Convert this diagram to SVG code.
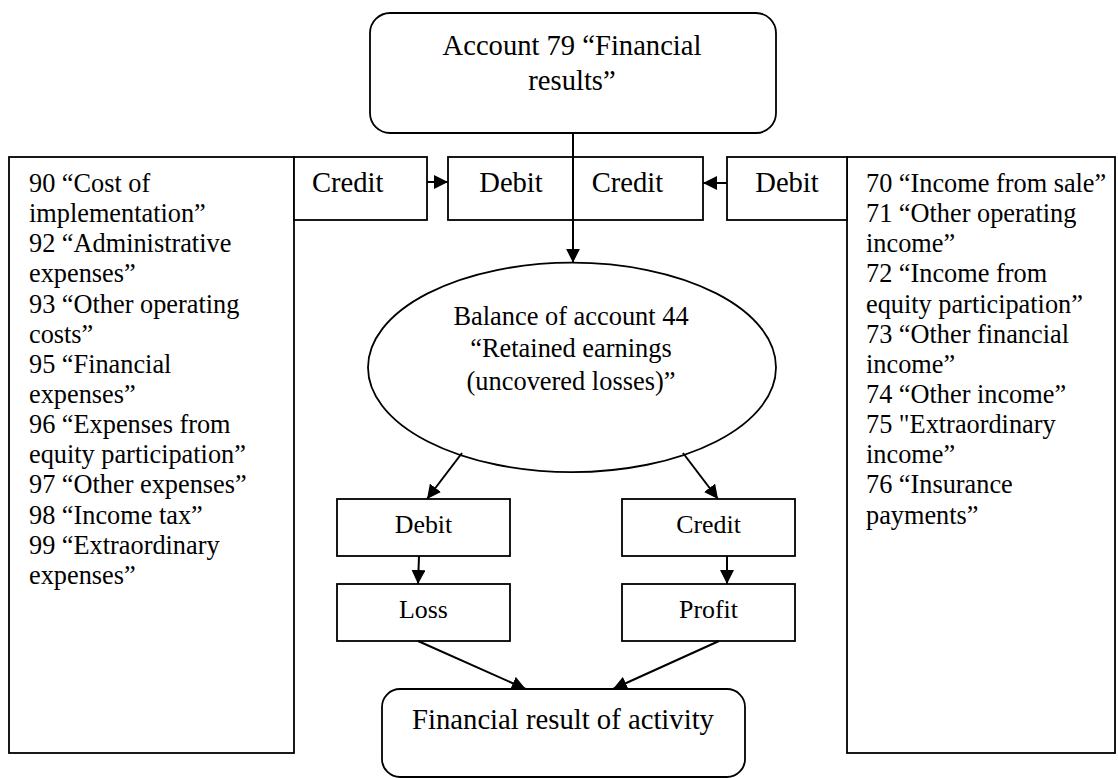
<svg xmlns="http://www.w3.org/2000/svg" width="1118" height="778" viewBox="0 0 1118 778">
<style>
.b{fill:#fff;stroke:#000;stroke-width:1.8}
.t{font-family:"Liberation Serif","Times New Roman",serif;fill:#000}
.c{stroke:#000;stroke-width:2;fill:none}
</style>
<defs>
<marker id="ah" viewBox="0 0 14 14" refX="14" refY="7" markerWidth="14" markerHeight="14" markerUnits="userSpaceOnUse" orient="auto">
<path d="M0,0 L14,7 L0,14 z" fill="#000"/>
</marker>
</defs>
<rect width="1118" height="778" fill="#fff"/>
<g id="left-list">
<rect class="b" x="9" y="157" width="285" height="596"/>
<text class="t" font-size="26.3" x="29" y="192"><tspan x="29">90 “Cost of</tspan><tspan x="29" dy="30.15">implementation”</tspan><tspan x="29" dy="30.15">92 “Administrative</tspan><tspan x="29" dy="30.15">expenses”</tspan><tspan x="29" dy="30.15">93 “Other operating</tspan><tspan x="29" dy="30.15">costs”</tspan><tspan x="29" dy="30.15">95 “Financial</tspan><tspan x="29" dy="30.15">expenses”</tspan><tspan x="29" dy="30.15">96 “Expenses from</tspan><tspan x="29" dy="30.15">equity participation”</tspan><tspan x="29" dy="30.15">97 “Other expenses”</tspan><tspan x="29" dy="30.15">98 “Income tax”</tspan><tspan x="29" dy="30.15">99 “Extraordinary</tspan><tspan x="29" dy="30.15">expenses”</tspan></text>
</g>
<g id="right-list">
<rect class="b" x="847" y="157" width="268" height="596"/>
<text class="t" font-size="26.3" x="866" y="192"><tspan x="866">70 “Income from sale”</tspan><tspan x="866" dy="30.15">71 “Other operating</tspan><tspan x="866" dy="30.15">income”</tspan><tspan x="866" dy="30.15">72 “Income from</tspan><tspan x="866" dy="30.15">equity participation”</tspan><tspan x="866" dy="30.15">73 “Other financial</tspan><tspan x="866" dy="30.15">income”</tspan><tspan x="866" dy="30.15">74 “Other income”</tspan><tspan x="866" dy="30.15">75 "Extraordinary</tspan><tspan x="866" dy="30.15">income”</tspan><tspan x="866" dy="30.15">76 “Insurance</tspan><tspan x="866" dy="30.15">payments”</tspan></text>
</g>
<g id="account79">
<rect class="b" x="370" y="13" width="406" height="120" rx="20" ry="20"/>
<text class="t" font-size="28.6" text-anchor="middle" x="572" y="55">Account 79 “Financial</text>
<text class="t" font-size="28.6" text-anchor="middle" x="572" y="90">results”</text>
</g>
<g id="credit-left">
<rect class="b" x="294" y="157" width="133" height="63"/>
<text class="t" font-size="28.6" x="312" y="192">Credit</text>
</g>
<g id="debit-credit-79">
<rect class="b" x="448" y="157" width="255" height="63"/>
<text class="t" font-size="28.6" text-anchor="middle" x="511" y="192">Debit</text>
<text class="t" font-size="28.6" text-anchor="middle" x="627.5" y="192">Credit</text>
</g>
<g id="debit-right">
<rect class="b" x="727" y="157" width="120" height="63"/>
<text class="t" font-size="28.6" text-anchor="middle" x="787" y="192">Debit</text>
</g>
<g id="balance44">
<ellipse class="b" cx="572" cy="367.4" rx="204" ry="104.7"/>
<text class="t" font-size="26.4" text-anchor="middle" x="571" y="325">Balance of account 44</text>
<text class="t" font-size="26.4" text-anchor="middle" x="571" y="357">“Retained earnings</text>
<text class="t" font-size="26.4" text-anchor="middle" x="571" y="390">(uncovered losses)”</text>
</g>
<g id="debit-low">
<rect class="b" x="337" y="499" width="173" height="57"/>
<text class="t" font-size="25.9" text-anchor="middle" x="423.5" y="533">Debit</text>
</g>
<g id="credit-low">
<rect class="b" x="622" y="499" width="173" height="57"/>
<text class="t" font-size="25.9" text-anchor="middle" x="708.5" y="533">Credit</text>
</g>
<g id="loss">
<rect class="b" x="337" y="584" width="173" height="57"/>
<text class="t" font-size="25.9" text-anchor="middle" x="423.5" y="618">Loss</text>
</g>
<g id="profit">
<rect class="b" x="622" y="584" width="173" height="57"/>
<text class="t" font-size="25.9" text-anchor="middle" x="708.5" y="618">Profit</text>
</g>
<g id="result">
<rect class="b" x="382" y="689" width="363" height="88" rx="18" ry="18"/>
<text class="t" font-size="28.7" text-anchor="middle" x="563" y="729">Financial result of activity</text>
</g>
<g id="connectors">
<line class="c" x1="573" y1="133" x2="573" y2="262.7" marker-end="url(#ah)"/>
<line class="c" x1="427" y1="182" x2="448" y2="182" marker-end="url(#ah)"/>
<line class="c" x1="727" y1="183" x2="703" y2="183" marker-end="url(#ah)"/>
<line class="c" x1="462" y1="453" x2="427" y2="499" marker-end="url(#ah)"/>
<line class="c" x1="683" y1="453" x2="718" y2="499" marker-end="url(#ah)"/>
<line class="c" x1="419" y1="556" x2="418" y2="584" marker-end="url(#ah)"/>
<line class="c" x1="727" y1="556" x2="727" y2="584" marker-end="url(#ah)"/>
<line class="c" x1="418" y1="641" x2="525.7" y2="689" marker-end="url(#ah)"/>
<line class="c" x1="719" y1="641" x2="613" y2="689" marker-end="url(#ah)"/>
</g>
</svg>
